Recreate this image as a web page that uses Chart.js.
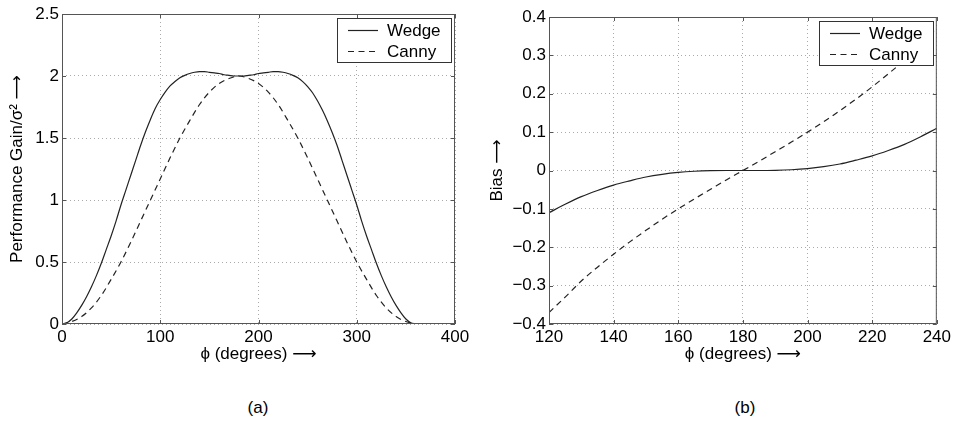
<!DOCTYPE html>
<html>
<head>
<meta charset="utf-8">
<script src="https://cdn.jsdelivr.net/npm/chart.js@4.4.1/dist/chart.umd.min.js"></script>
<style>
  html, body { margin: 0; padding: 0; background: #fff; }
  body { width: 954px; height: 421px; position: relative; overflow: hidden; font-family: "Liberation Sans", Arial, sans-serif; }
  canvas { position: absolute; top: 0; }
  #gainChart { left: 0; }
  #biasChart { left: 477px; }
  .tag { position: absolute; top: 397px; width: 60px; text-align: center; font-size: 17px; line-height: 22px; color: #000; }
</style>
</head>
<body>
<canvas id="gainChart" width="477" height="380"></canvas>
<canvas id="biasChart" width="477" height="380"></canvas>
<div class="tag" style="left:228px">(a)</div>
<div class="tag" style="left:715px">(b)</div>
<script>
// ---- data ----
const seriesNames = ["Wedge", "Canny"];

// (a) performance gain, wedge sampled every 5 deg, canny every 10 deg
const phiGainFine = [0, 5, 10, 15, 20, 25, 30, 35, 40, 45, 50, 55, 60, 65, 70, 75, 80, 85, 90, 95,
  100, 105, 110, 115, 120, 125, 130, 135, 140, 145, 150, 155, 160, 165, 170, 175, 180, 185, 190, 195,
  200, 205, 210, 215, 220, 225, 230, 235, 240, 245, 250, 255, 260, 265, 270, 275, 280, 285, 290, 295,
  300, 305, 310, 315, 320, 325, 330, 335, 340, 345, 350, 355, 360];
const wedgeGain = [0, 0.01, 0.04, 0.09, 0.15, 0.22, 0.30, 0.39, 0.49, 0.60, 0.71, 0.83, 0.96, 1.08, 1.20, 1.32, 1.44, 1.55, 1.65, 1.74,
  1.81, 1.87, 1.92, 1.955, 1.985, 2.005, 2.02, 2.03, 2.035, 2.035, 2.03, 2.025, 2.02, 2.01, 2.005, 2.0, 2.0, 2.0, 2.005, 2.01,
  2.02, 2.025, 2.03, 2.035, 2.035, 2.03, 2.02, 2.005, 1.985, 1.955, 1.915, 1.865, 1.80, 1.725, 1.64, 1.545, 1.44, 1.32, 1.20, 1.08,
  0.96, 0.83, 0.71, 0.60, 0.49, 0.39, 0.30, 0.22, 0.15, 0.09, 0.04, 0.01, 0];
const phiGainCoarse = [0, 10, 20, 30, 40, 50, 60, 70, 80, 90, 100, 110, 120, 130, 140, 150, 160, 170, 180,
  190, 200, 210, 220, 230, 240, 250, 260, 270, 280, 290, 300, 310, 320, 330, 340, 350, 360];
const cannyGain = [0, 0.02, 0.06, 0.13, 0.23, 0.36, 0.50, 0.66, 0.83, 1.00, 1.17, 1.34, 1.50, 1.64, 1.77, 1.87, 1.94, 1.98, 2.0,
  1.98, 1.94, 1.87, 1.77, 1.64, 1.50, 1.34, 1.17, 1.00, 0.83, 0.66, 0.50, 0.36, 0.23, 0.13, 0.06, 0.02, 0];

// (b) bias, both sampled every 5 deg
const phiBias = [120, 125, 130, 135, 140, 145, 150, 155, 160, 165, 170, 175, 180, 185, 190, 195, 200, 205, 210, 215, 220, 225, 230, 235, 240];
const wedgeBias = [-0.11, -0.088, -0.068, -0.052, -0.038, -0.027, -0.017, -0.010, -0.005, -0.002, -0.0005, 0, 0, 0,
  0.0005, 0.002, 0.005, 0.010, 0.017, 0.027, 0.038, 0.052, 0.068, 0.088, 0.11];
const cannyBias = [-0.37, -0.33, -0.288, -0.252, -0.218, -0.186, -0.156, -0.127, -0.100, -0.074, -0.049, -0.024, 0,
  0.024, 0.049, 0.074, 0.100, 0.127, 0.156, 0.186, 0.218, 0.252, 0.288, 0.33, 0.37];

// axis ranges / ticks
const gainX = { min: 0, max: 400, step: 100 };
const gainY = { min: 0, max: 2.5, step: 0.5 };
const biasX = { min: 120, max: 240, step: 20 };
const biasY = { min: -0.4, max: 0.4, step: 0.1 };

const FONT = '"Liberation Sans", Arial, Helvetica, "DejaVu Sans", sans-serif';
Chart.defaults.font.family = FONT;
Chart.defaults.font.size = 17;
Chart.defaults.color = "#000";

const pts = (xs, ys) => xs.map((x, i) => ({ x: x, y: ys[i] }));
const fmt = v => String(Number(v.toFixed(1))).replace("-", "\u2212");

// box round the plot with inward ticks, like matlab
const framePlugin = {
  id: "frame",
  afterDatasetsDraw(chart) {
    const { ctx, chartArea: a, scales } = chart;
    ctx.save();
    ctx.setLineDash([]);
    ctx.strokeStyle = "#555";
    ctx.lineWidth = 1;
    ctx.strokeRect(a.left + 0.5, a.top + 0.5, a.width - 1, a.height - 1);
    ctx.beginPath();
    scales.x.ticks.forEach(t => {
      const px = Math.round(scales.x.getPixelForValue(t.value)) + 0.5;
      ctx.moveTo(px, a.bottom); ctx.lineTo(px, a.bottom - 4);
      ctx.moveTo(px, a.top); ctx.lineTo(px, a.top + 4);
    });
    scales.y.ticks.forEach(t => {
      const py = Math.round(scales.y.getPixelForValue(t.value)) + 0.5;
      ctx.moveTo(a.left, py); ctx.lineTo(a.left + 4, py);
      ctx.moveTo(a.right, py); ctx.lineTo(a.right - 4, py);
    });
    ctx.stroke();
    ctx.restore();
  }
};

// legend box drawn inside the top right corner of the plot
const legendBox = {
  id: "legendBox",
  afterDraw(chart) {
    const { ctx, chartArea: a } = chart;
    const sets = chart.data.datasets;
    ctx.save();
    ctx.font = "17px " + FONT;
    const textW = Math.max(...sets.map(d => ctx.measureText(d.label).width));
    const w = Math.round(50 + textW + 10), h = 44;
    const x = Math.round(a.right - 4 - w), y = Math.round(a.top + 4);
    ctx.fillStyle = "#fff";
    ctx.fillRect(x, y, w, h);
    ctx.strokeStyle = "#333";
    ctx.lineWidth = 1;
    ctx.strokeRect(x + 0.5, y + 0.5, w, h);
    sets.forEach((d, i) => {
      const ly = y + 12 + i * 21;
      ctx.strokeStyle = d.borderColor;
      ctx.lineWidth = d.borderWidth;
      ctx.setLineDash(d.borderDash || []);
      ctx.beginPath();
      ctx.moveTo(x + 11, ly + 0.5);
      ctx.lineTo(x + 41, ly + 0.5);
      ctx.stroke();
      ctx.fillStyle = "#000";
      ctx.textBaseline = "middle";
      ctx.fillText(d.label, x + 50, ly + 1);
    });
    ctx.restore();
  }
};

function lineSet(label, data, dashed) {
  return {
    label: label,
    data: data,
    borderColor: "#222",
    borderWidth: 1.2,
    borderDash: dashed ? [6, 4.5] : [],
    pointRadius: 0,
    fill: false,
    cubicInterpolationMode: "monotone"
  };
}

function axis(r, title, size, titlePad, horizontal) {
  return {
    type: "linear",
    min: r.min,
    max: r.max,
    ticks: { stepSize: r.step, padding: 3, callback: fmt, color: "#000" },
    grid: { color: "#aaa", lineWidth: 1, drawTicks: false },
    border: { display: false, dash: [1, 3] },
    title: { display: true, text: title, color: "#000", font: { size: 17 }, padding: titlePad },
    afterFit: s => { if (horizontal) s.height = size; else s.width = size; }
  };
}

function makeChart(id, sets, xr, yr, yTitle, yWidth, yTitlePad, pad) {
  return new Chart(document.getElementById(id), {
    type: "line",
    data: { datasets: sets },
    options: {
      responsive: false,
      animation: false,
      layout: { padding: pad },
      plugins: { legend: { display: false }, tooltip: { enabled: false } },
      scales: {
        x: axis(xr, "\u03d5 (degrees) \u27f6", 56, { top: 0, bottom: 15 }, true),
        y: axis(yr, yTitle, yWidth, { top: yTitlePad, bottom: 0 }, false)
      }
    },
    plugins: [framePlugin, legendBox]
  });
}

makeChart("gainChart",
  [lineSet(seriesNames[0], pts(phiGainFine, wedgeGain), false),
   lineSet(seriesNames[1], pts(phiGainCoarse, cannyGain), true)],
  gainX, gainY, "Performance Gain/\u03c3\u00b2 \u27f6", 62, 7,
  { left: 0, right: 22, top: 14, bottom: 0 });

makeChart("biasChart",
  [lineSet(seriesNames[0], pts(phiBias, wedgeBias), false),
   lineSet(seriesNames[1], pts(phiBias, cannyBias), true)],
  biasX, biasY, "Bias \u27f6", 72, 10,
  { left: 0, right: 17, top: 17, bottom: 0 });
</script>
</body>
</html>
